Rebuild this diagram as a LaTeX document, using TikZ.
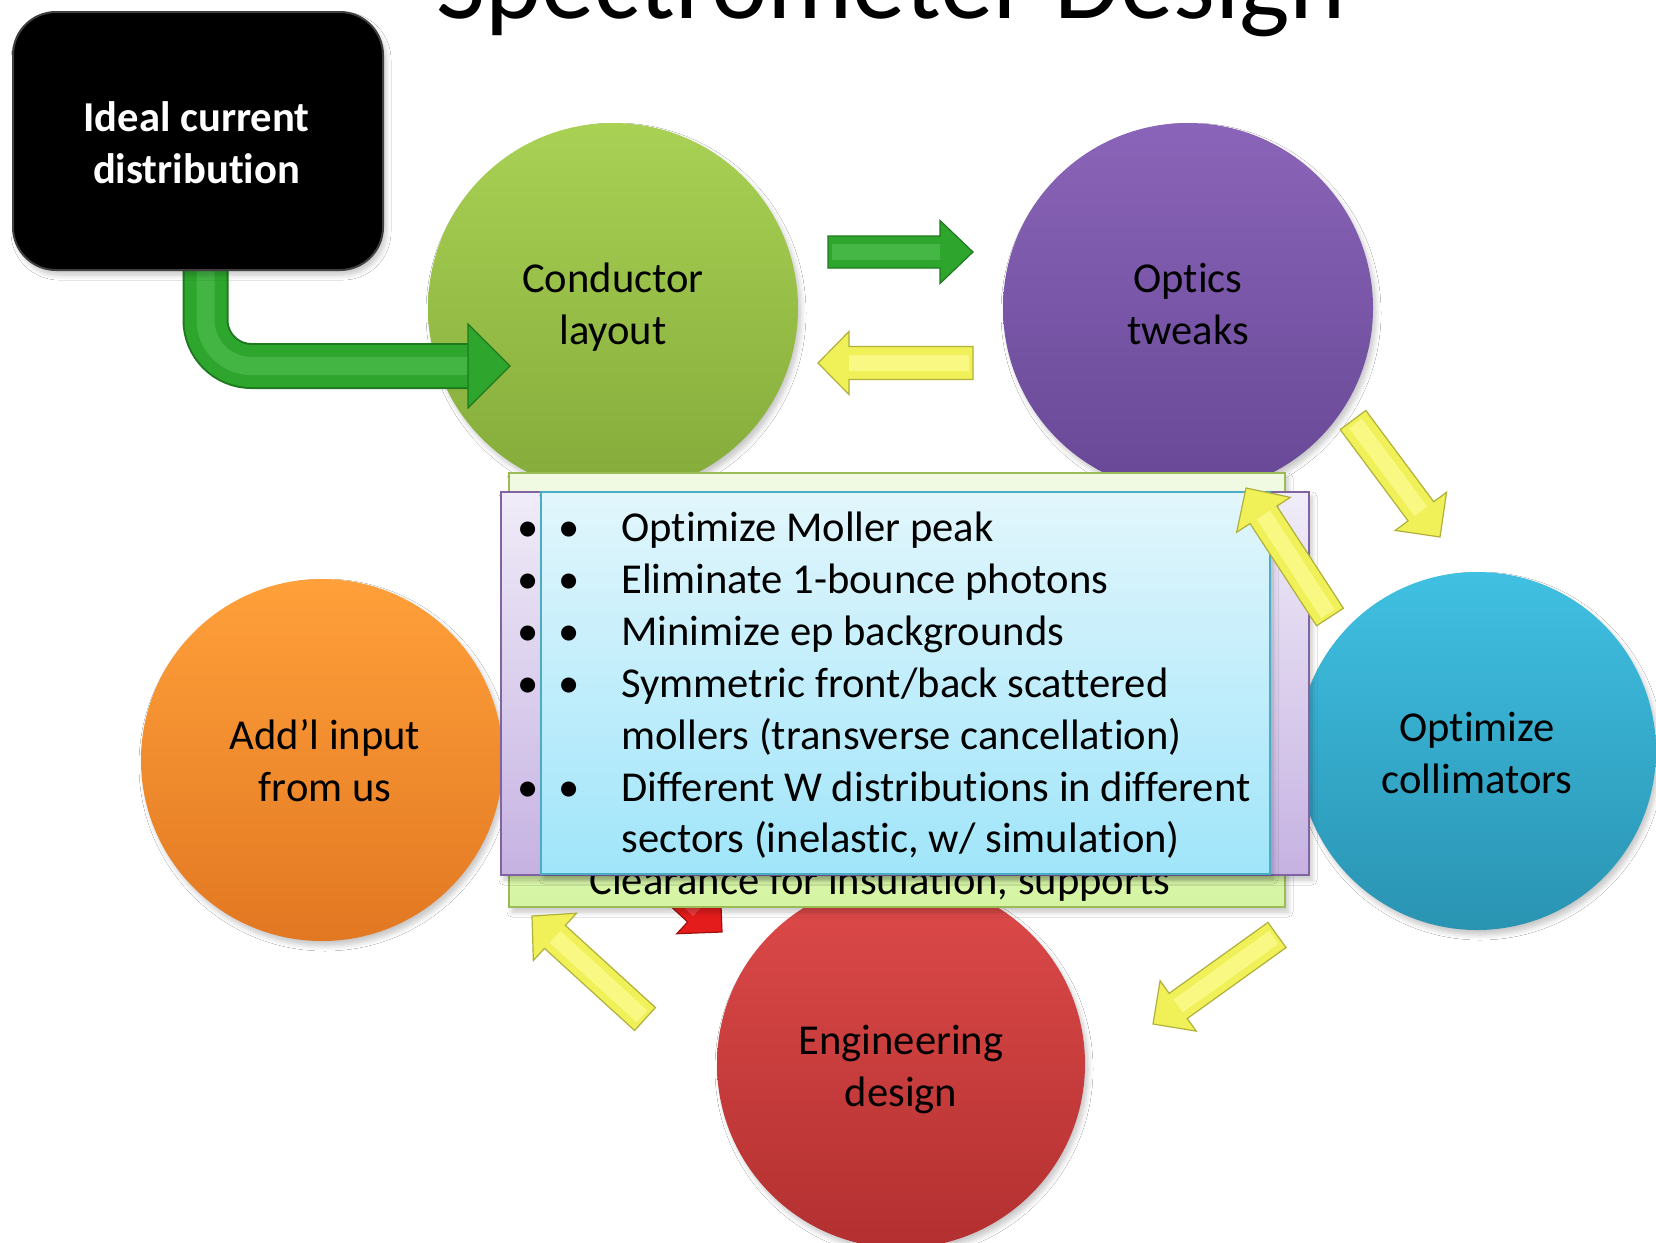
\documentclass[tikz,border=0pt]{standalone}
\usepackage{fontspec}
\setmainfont{Carlito}[Ligatures=NoCommon]
\usetikzlibrary{calc,shadows.blur}

\definecolor{cgreenT}{HTML}{A9D154}
\definecolor{cgreenB}{HTML}{84AB3A}
\definecolor{cpurpT}{HTML}{8A64B8}
\definecolor{cpurpB}{HTML}{684896}
\definecolor{ctealT}{HTML}{40C0E2}
\definecolor{ctealB}{HTML}{2A93B2}
\definecolor{corgT}{HTML}{FFA03A}
\definecolor{corgB}{HTML}{E27822}
\definecolor{credT}{HTML}{DE4A4A}
\definecolor{credB}{HTML}{B33030}
\definecolor{gboxT}{HTML}{F1F9E3}
\definecolor{gboxB}{HTML}{D5F5A3}
\definecolor{gboxD}{HTML}{9BBB59}
\definecolor{pboxT}{HTML}{F0ECF8}
\definecolor{pboxB}{HTML}{C6B2E2}
\definecolor{pboxD}{HTML}{8064A2}
\definecolor{bboxT}{HTML}{E2F6FC}
\definecolor{bboxB}{HTML}{A0E5FA}
\definecolor{bboxD}{HTML}{4BACC6}
\definecolor{ayel}{HTML}{F0F058}
\definecolor{ayelD}{HTML}{B0B03A}
\definecolor{ayelH}{HTML}{FFFFA8}
\definecolor{agrn}{HTML}{2EA62E}
\definecolor{agrnD}{HTML}{1E7A1E}
\definecolor{agrnH}{HTML}{5CC85C}
\definecolor{ared}{HTML}{E41C1C}
\definecolor{aredD}{HTML}{A01010}
\definecolor{aredH}{HTML}{FF6060}

\tikzset{
  softshadow/.style={blur shadow={shadow xshift=1.5pt, shadow yshift=-2.5pt, shadow opacity=22, shadow blur radius=2.5pt, shadow blur steps=6}},
  bubble/.style={circle, inner sep=0pt, softshadow},
  lbl/.style={align=center, inner sep=0pt, text=black},
  panel/.style={rectangle, inner sep=0pt, line width=1pt, softshadow},
  yarrow/.style={fill=ayel, draw=ayelD, line width=0.6pt, line join=miter},
  yhl/.style={draw=ayelH, opacity=0.55, line width=8pt},
  garrow/.style={fill=agrn, draw=agrnD, line width=0.6pt},
  ghl/.style={draw=agrnH, opacity=0.5, line width=8pt},
  rarrow/.style={fill=ared, draw=aredD, line width=0.6pt},
  rhl/.style={draw=aredH, opacity=0.5, line width=8pt},
}

% #1 kind (y/g/r), #2 name, #3 tail, #4 tip, #5 half shaft, #6 half head, #7 head length
\newcommand\blockarrow[7]{%
  \coordinate (#2-b) at ($(#4)!#7!(#3)$);
  \path[#1arrow] ($(#3)!#5!90:(#4)$) -- ($(#2-b)!#5!-90:(#3)$) -- ($(#2-b)!#6!-90:(#3)$)
     -- (#4) -- ($(#2-b)!#6!90:(#3)$) -- ($(#2-b)!#5!90:(#3)$) -- ($(#3)!#5!-90:(#4)$) -- cycle;
  \draw[#1hl] ($(#3)!2pt!(#4)$) -- (#2-b);
}

\begin{document}
\begin{tikzpicture}[x=0.5pt,y=-0.5pt, font=\fontsize{21.3pt}{26pt}\selectfont]
\useasboundingbox (0,0) rectangle (1656,1243);
\clip (0,0) rectangle (1656,1243);
\fill[white] (0,0) rectangle (1656,1243);

% title
\node[anchor=base west, inner sep=0pt, font=\fontsize{53.4pt}{60pt}\selectfont] (title) at (436,18) {Spectrometer Design};

% circles
\node[bubble, top color=cgreenT, bottom color=cgreenB, minimum size=185pt] (conductor) at (613,308) {};
\node[bubble, top color=cpurpT, bottom color=cpurpB, minimum size=185pt] (optics) at (1188,308) {};
\node[bubble, top color=ctealT, bottom color=ctealB, minimum size=179pt] (collim) at (1477,751) {};
\node[bubble, top color=corgT, bottom color=corgB, minimum size=181pt] (addl) at (322,760) {};
\node[bubble, top color=credT, bottom color=credB, minimum size=184pt] (eng) at (901,1064) {};

\node[lbl] (conductor-t) at (613,308) {\strut Conductor\\layout\strut};
\node[lbl] (optics-t) at (1188,308) {\strut Optics\\tweaks\strut};
\node[lbl] (collim-t) at (1477,757) {\strut Optimize\\collimators\strut};
\node[lbl] (addl-t) at (325,765) {\strut Add’l input\\from us\strut};
\node[lbl] (eng-t) at (901,1070) {\strut Engineering\\design\strut};

% red arrow (mostly hidden)
\coordinate (red-tail) at (612,830);
\coordinate (red-tip) at (722,932);
\blockarrow{r}{red}{red-tail}{red-tip}{8pt}{16pt}{16pt}

% stacked panels
\node[panel, top color=gboxT, bottom color=gboxB, draw=gboxD, minimum width=388pt, minimum height=217pt] (gbox) at (897,690) {};
\node[anchor=base west, inner sep=0pt] (gbox-t) at (589,894) {Clearance for insulation, supports};
\node[panel, top color=pboxT, bottom color=pboxB, draw=pboxD, minimum width=404pt, minimum height=191.5pt] (pbox) at (905,683.5) {};
\node[anchor=base west, inner sep=0pt, font=\fontsize{21.3pt}{25.95pt}\selectfont] (pbox-t) at (517,541.5)
  {\begin{tabular}[t]{@{}l@{}}\textbullet\\\textbullet\\\textbullet\\\textbullet\\ \\\textbullet\end{tabular}};
\node[panel, top color=bboxT, bottom color=bboxB, draw=bboxD, minimum width=364.5pt, minimum height=191pt] (bbox) at (905.5,683) {};
\node[anchor=base west, inner sep=0pt, font=\fontsize{21.3pt}{25.95pt}\selectfont] (bbox-t) at (558,541.5)
  {\begin{tabular}[t]{@{}p{31.5pt}@{}l@{}}
   \textbullet & Optimize Moller peak\\
   \textbullet & Eliminate 1-bounce photons\\
   \textbullet & Minimize ep backgrounds\\
   \textbullet & Symmetric front/back scattered\\
               & mollers (transverse cancellation)\\
   \textbullet & Different W distributions in different\\
               & sectors (inelastic, w/ simulation)
  \end{tabular}};

% block arrows
\coordinate (a1-tail) at (828,252);   \coordinate (a1-tip) at (973,252);
\blockarrow{g}{a1}{a1-tail}{a1-tip}{8pt}{15.75pt}{16.5pt}
\coordinate (a2-tail) at (973,363);   \coordinate (a2-tip) at (818,363);
\blockarrow{y}{a2}{a2-tail}{a2-tip}{8.25pt}{15.75pt}{15.5pt}
\coordinate (a3-tail) at (1353,420);  \coordinate (a3-tip) at (1440,537);
\blockarrow{y}{a3}{a3-tail}{a3-tip}{8pt}{16pt}{16pt}
\coordinate (a4-tail) at (1330,617);  \coordinate (a4-tip) at (1246,488);
\blockarrow{y}{a4}{a4-tail}{a4-tip}{8pt}{16pt}{16pt}
\coordinate (a5-tail) at (1277,935);  \coordinate (a5-tip) at (1153,1024);
\blockarrow{y}{a5}{a5-tail}{a5-tip}{7.75pt}{15.5pt}{15.5pt}
\coordinate (a6-tail) at (645,1019);  \coordinate (a6-tip) at (532,916);
\blockarrow{y}{a6}{a6-tail}{a6-tip}{7.75pt}{16pt}{15.5pt}

% bent green arrow from the black box to the conductor circle
\coordinate (bend-start) at (205.5,262);
\coordinate (bend-corner) at (205.5,366);
\coordinate (bend-base) at (468,366);
\coordinate (bend-tip) at (510,366);
\draw[agrnD, line width=23pt, rounded corners=23pt] (bend-start) -- (bend-corner) -- (bend-base);
\draw[agrn, line width=21pt, rounded corners=23pt] (bend-start) -- (bend-corner) -- (bend-base);
\draw[agrnH, opacity=0.45, line width=9pt, rounded corners=23pt] (bend-start) -- (bend-corner) -- (bend-base);
\path[garrow] ($(bend-base)+(0,-42)$) -- (bend-tip) -- ($(bend-base)+(0,42)$) -- cycle;

% black box
\node[rounded corners=21.5pt, fill=black, draw=black!75, line width=1pt, softshadow,
      minimum width=185pt, minimum height=129pt] (ideal) at (198,141) {};
\node[lbl, text=white, font=\fontsize{21.3pt}{26pt}\selectfont\bfseries] (ideal-t) at (196.5,147) {\strut Ideal current\\distribution\strut};
\end{tikzpicture}
\end{document}
